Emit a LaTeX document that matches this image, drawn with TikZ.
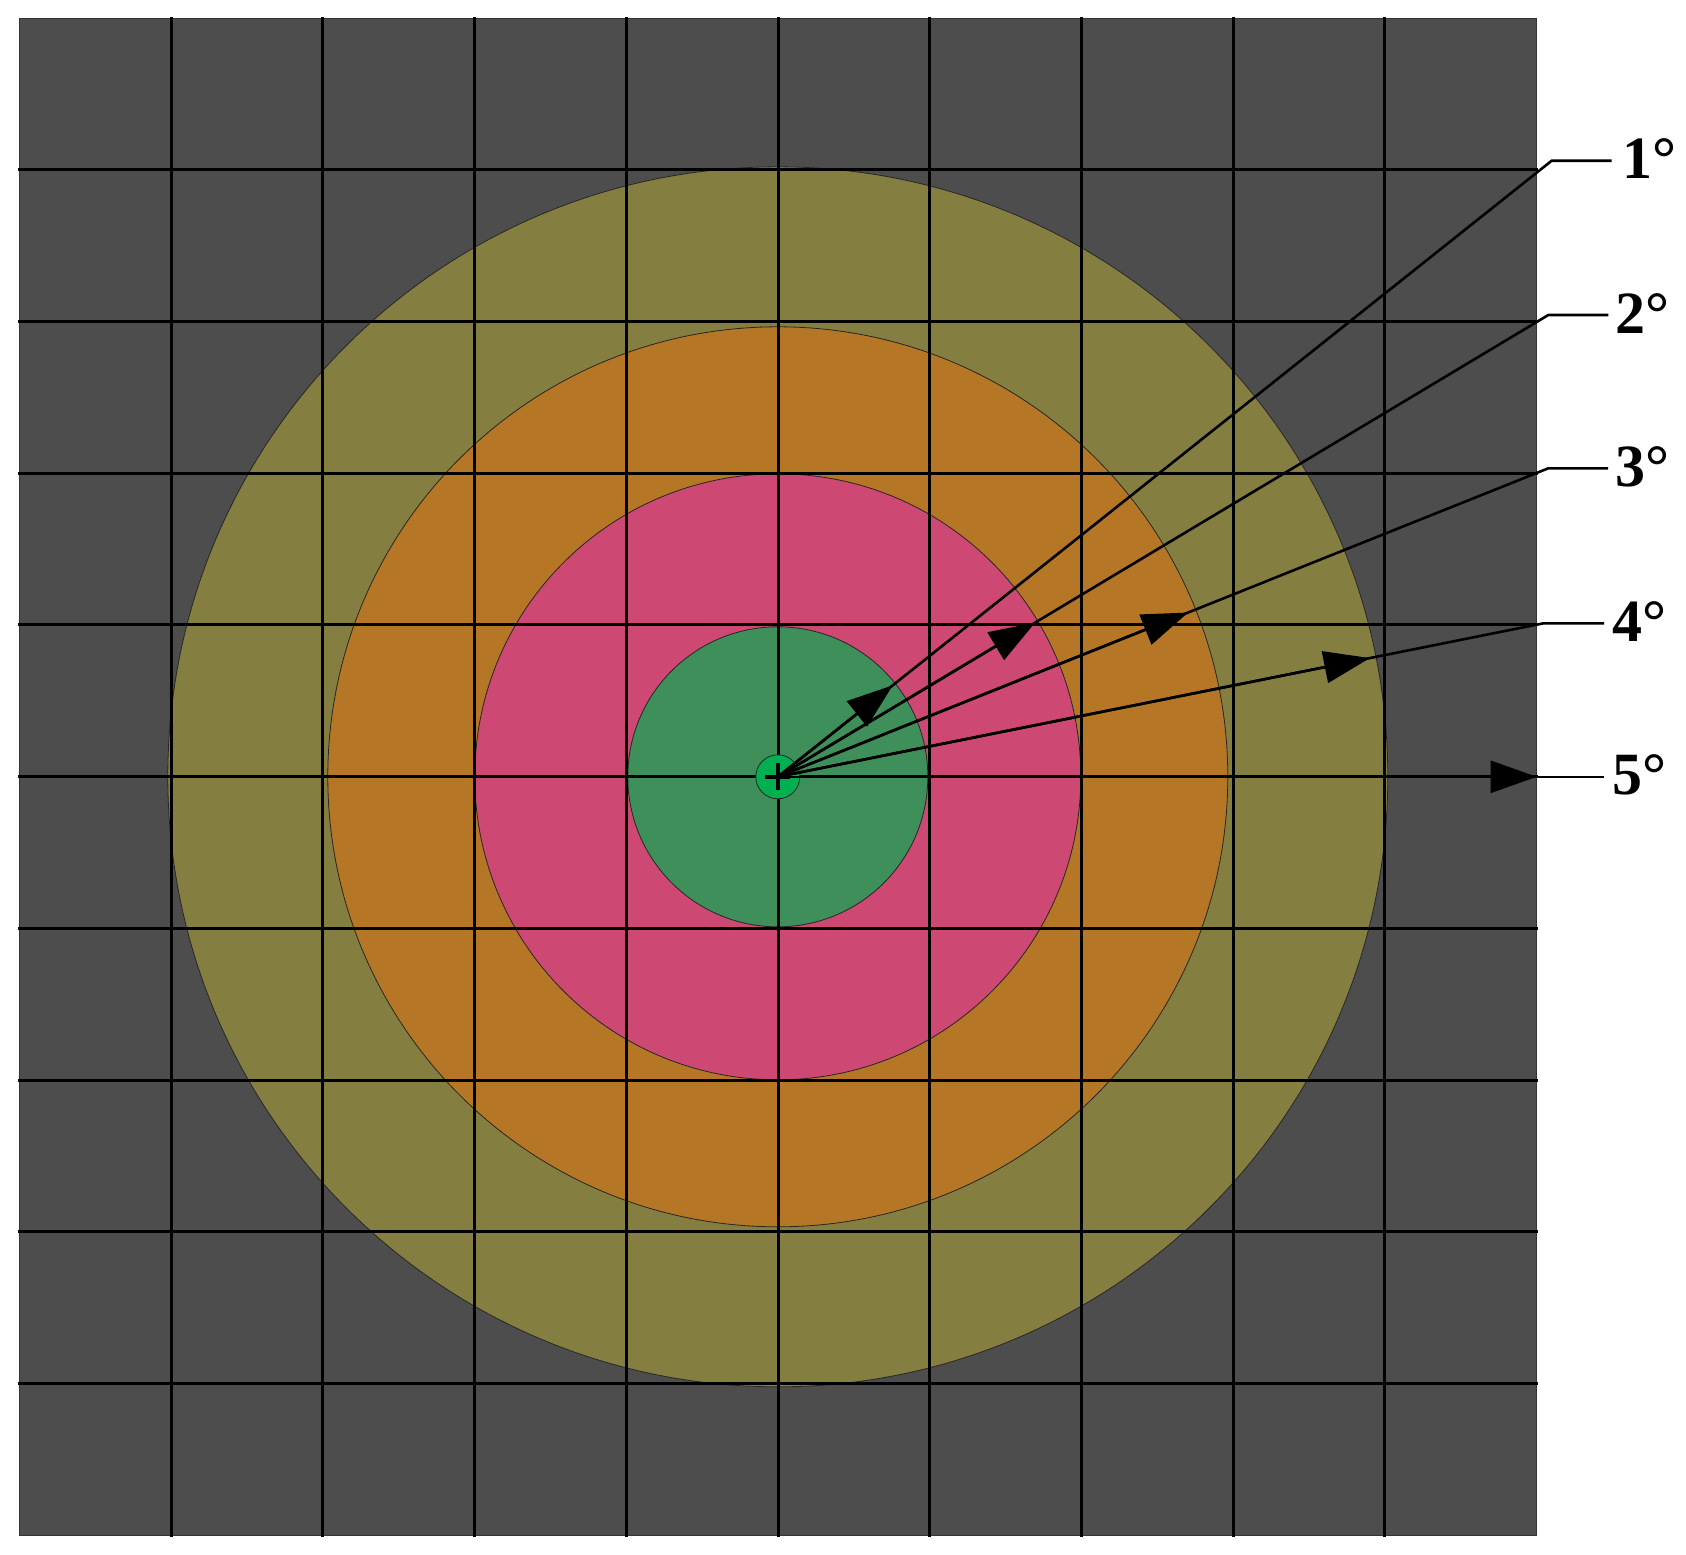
\documentclass[tikz,border=0pt]{standalone}
\usepackage{fontspec}
\setmainfont{Liberation Serif}
\usetikzlibrary{arrows.meta,calc}
\definecolor{bggray}{HTML}{4D4D4D}
\definecolor{ringolive}{HTML}{847F40}
\definecolor{ringorange}{HTML}{B57726}
\definecolor{ringpink}{HTML}{CD4872}
\definecolor{ringgreen}{HTML}{3E8F5A}
\definecolor{dotgreen}{HTML}{00B050}
\tikzset{
  ring/.style={draw=black!85, line width=0.4pt},
  gridline/.style={black, line width=1.5pt},
  leader/.style={black, line width=1.3pt},
  tipline/.style={black, line width=1.3pt, -{Triangle[length=23pt,width=16pt]}},
  lab/.style={anchor=base west, inner sep=0pt, font=\fontsize{30pt}{30pt}\selectfont\bfseries}
}
\begin{document}
\begin{tikzpicture}[x=0.5pt,y=-0.5pt]
\useasboundingbox (0,0) rectangle (1686,1554);
\coordinate (C) at (777.8,776.8);
% background square
\filldraw[fill=bggray, draw=black!80, line width=0.5pt] (19.3,18.3) rectangle (1536.7,1535);
% rings
\filldraw[ring, fill=ringolive] (C) circle[radius=305pt];
\filldraw[ring, fill=ringorange] (C) circle[radius=225pt];
\filldraw[ring, fill=ringpink] (C) circle[radius=151.5pt];
\filldraw[ring, fill=ringgreen] (C) circle[radius=75pt];
% grid
\foreach \k in {1,...,9} {
  \draw[gridline] ({19.3+151.74*\k},17) -- ({19.3+151.74*\k},1536.5);
  \draw[gridline] (17.5,{18.3+151.67*\k}) -- (1537.5,{18.3+151.67*\k});
}
% centre mark
\filldraw[fill=dotgreen, draw=black!85, line width=0.4pt] (C) circle[radius=11pt];
\draw[black, line width=2pt] ([xshift=-6.3pt]C) -- ([xshift=6.3pt]C);
\draw[black, line width=2pt] ([yshift=-6.8pt]C) -- ([yshift=6.8pt]C);
% leader bends and ends
\coordinate (B1) at (1551.7,160.7); \coordinate (E1) at (1611.7,160.7);
\coordinate (B2) at (1548.3,315);   \coordinate (E2) at (1608.3,315);
\coordinate (B3) at (1548.3,468.3); \coordinate (E3) at (1608,468.3);
\coordinate (B4) at (1543.3,623.3); \coordinate (E4) at (1604,623.3);
\coordinate (B5) at (1536.7,776.8); \coordinate (E5) at (1604,776.8);
% tips on rings
\coordinate (T1) at ($(C)!73.5pt!(B1)$);
\coordinate (T2) at ($(C)!150pt!(B2)$);
\coordinate (T3) at ($(C)!221pt!(B3)$);
\coordinate (T4) at ($(C)!302pt!(B4)$);
% leaders
\foreach \i in {1,...,5} {
  \draw[leader] (C) -- (B\i) -- (E\i);
}
\foreach \i in {1,...,4} {
  \draw[tipline] (C) -- (T\i);
}
\draw[tipline] (C) -- (B5);
% labels
\node[lab] (L1) at ([xshift=5pt,yshift=-9pt]E1) {1°};
\node[lab] (L2) at ([xshift=3.5pt,yshift=-9pt]E2) {2°};
\node[lab] (L3) at ([xshift=3.5pt,yshift=-9pt]E3) {3°};
\node[lab] (L4) at ([xshift=4pt,yshift=-9pt]E4) {4°};
\node[lab] (L5) at ([xshift=4pt,yshift=-9pt]E5) {5°};
\end{tikzpicture}
\end{document}
